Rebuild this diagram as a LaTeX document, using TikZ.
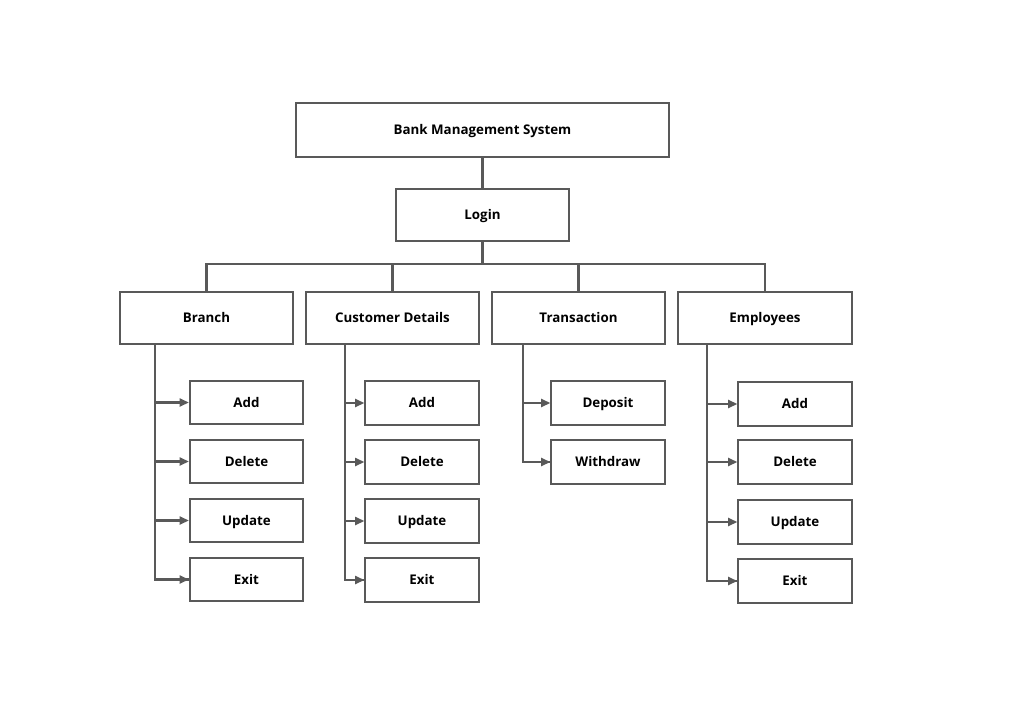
\documentclass[tikz,border=0pt]{standalone}
\usepackage{fontspec}
\setmainfont{Open Sans}
\usetikzlibrary{arrows.meta, positioning}
\definecolor{boxline}{HTML}{595959}

\begin{document}
\begin{tikzpicture}[
    x=0.75pt, y=-0.75pt,
    box/.style={draw=boxline, line width=1.4pt, fill=white,
        font=\bfseries\fontsize{10}{12}\selectfont, inner sep=0pt,
        text height=7pt, text depth=0pt,
        minimum width=130pt, minimum height=39pt},
    sub/.style={box, minimum width=85pt, minimum height=32.5pt},
    link/.style={draw=boxline, line width=1.6pt},
    arr/.style={link, -{Triangle[length=7pt, width=6pt]}}]
    \useasboundingbox (0,0) rectangle (1024,724);

    \node[box, minimum width=280pt, minimum height=40.5pt] (bms) at (482.5,130) {Bank Management System};
    \node[box] (login) at (482.5,215) {Login};

    \node[box] (branch) at (206.5,318) {Branch};
    \node[box] (cust)   at (392.5,318) {Customer Details};
    \node[box] (trans)  at (578.5,318) {Transaction};
    \node[box] (emp)    at (765,318)   {Employees};

    % children
    \node[sub] (b1) at (246.5,402.5) {Add};
    \node[sub] (b2) at (246.5,461.5) {Delete};
    \node[sub] (b3) at (246.5,520.5) {Update};
    \node[sub] (b4) at (246.5,579.5) {Exit};

    \node[sub] (c1) at (422,403) {Add};
    \node[sub] (c2) at (422,462) {Delete};
    \node[sub] (c3) at (422,521) {Update};
    \node[sub] (c4) at (422,580) {Exit};

    \node[sub] (t1) at (608,403) {Deposit};
    \node[sub] (t2) at (608,462) {Withdraw};

    \node[sub] (e1) at (795,404) {Add};
    \node[sub] (e2) at (795,462) {Delete};
    \node[sub] (e3) at (795,522) {Update};
    \node[sub] (e4) at (795,581) {Exit};

    \coordinate (bus) at (482.5,264);
    \draw[link] (bms) -- (login);
    \draw[link] (login) -- (bus);
    \draw[link] (branch.north) |- (bus) -| (emp.north);
    \draw[link] (cust.north) -- (cust.north |- bus);
    \draw[link] (trans.north) -- (trans.north |- bus);

    % trunks
    \draw[link] (155,344) |- (b4);
    \foreach \n in {b1,b2,b3,b4} \draw[arr] (155,0 |- \n) -- (\n);
    \draw[link] (345,344) |- (c4);
    \foreach \n in {c1,c2,c3,c4} \draw[arr] (345,0 |- \n) -- (\n);
    \draw[link] (523,344) |- (t2);
    \foreach \n in {t1,t2} \draw[arr] (523,0 |- \n) -- (\n);
    \draw[link] (707,344) |- (e4);
    \foreach \n in {e1,e2,e3,e4} \draw[arr] (707,0 |- \n) -- (\n);

\end{tikzpicture}
\end{document}
